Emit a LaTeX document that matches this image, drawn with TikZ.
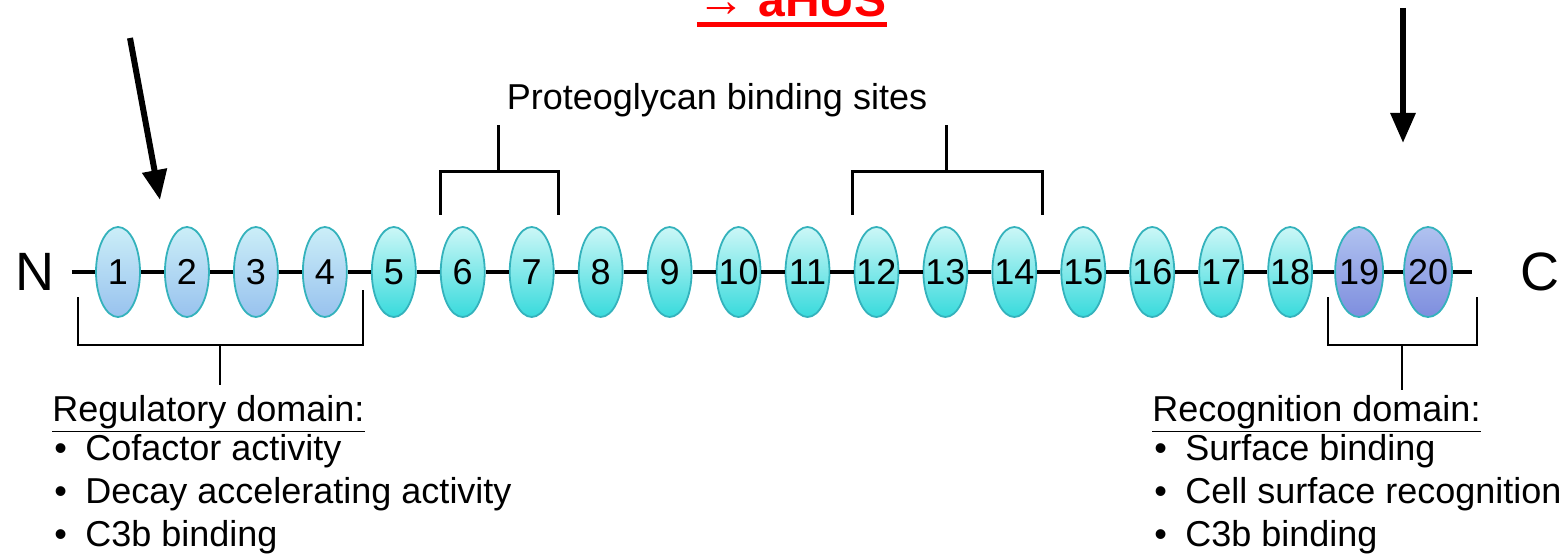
\documentclass[tikz,border=0pt]{standalone}
\usepackage{fontspec}
\setmainfont{Liberation Sans}
\usetikzlibrary{shapes.geometric,arrows.meta,positioning}

\definecolor{bordo}{HTML}{34B2BC}
\definecolor{regA}{HTML}{CBEEF8}
\definecolor{regB}{HTML}{98C2EE}
\definecolor{midA}{HTML}{CCF7F7}
\definecolor{midB}{HTML}{38DADC}
\definecolor{recA}{HTML}{B0C2F0}
\definecolor{recB}{HTML}{7E8EDE}

\newcommand{\punto}{\makebox[15.5pt][l]{\textbullet}}

\begin{document}
\begin{tikzpicture}[x=0.5pt, y=-0.5pt,
	dominio/.style={ellipse, draw=bordo, line width=0.9pt,
		minimum width=22pt, minimum height=45pt, inner sep=0pt,
		font=\fontsize{18pt}{18pt}\selectfont},
	reg/.style={dominio, top color=regA, bottom color=regB},
	mid/.style={dominio, top color=midA, bottom color=midB},
	rec/.style={dominio, top color=recA, bottom color=recB, minimum width=24pt},
	catena/.style={line width=2pt, black},
	staffa/.style={line width=1pt, black},
	staffaPG/.style={line width=1.5pt, black},
	freccia/.style={line width=3pt, -{Triangle[length=15pt,width=12pt]}},
	voce/.style={anchor=base west, inner sep=0pt,
		font=\fontsize{18pt}{21pt}\selectfont}]
	\useasboundingbox (0,0) rectangle (1565,556);
	\def\passo{68.95}

	%% domini SCR
	\foreach \i in {1,...,4}
		\node[reg] (d\i) at ({118+\passo*(\i-1)},272) {\makebox[0pt]{\i}};
	\foreach \i in {5,...,18}
		\node[mid] (d\i) at ({118+\passo*(\i-1)},272) {\makebox[0pt]{\i}};
	\foreach \i in {19,20}
		\node[rec] (d\i) at ({118+\passo*(\i-1)},272) {\makebox[0pt]{\i}};

	%% estremi N e C
	\node[font=\fontsize{27pt}{27pt}\selectfont, inner xsep=8.5pt] (nterm) at (35,272) {N};
	\node[font=\fontsize{27pt}{27pt}\selectfont] (cterm) at (1540,272) {C};
	\coordinate (cfine) at (1472,272);

	%% catena
	\draw[catena] (nterm) -- (d1);
	\foreach \i [evaluate=\i as \j using int(\i+1)] in {1,...,19}
		\draw[catena] (d\i) -- (d\j);
	\draw[catena] (d20) -- (cfine);

	%% siti proteoglicani
	\node[font=\fontsize{18pt}{18pt}\selectfont] (pg) at (717,100) {Proteoglycan binding sites};
	\draw[staffaPG] (440,215) -- (440,172) -- (558,172) -- (558,215);
	\draw[staffaPG] (498,172) -- (498,125);
	\draw[staffaPG] (852,215) -- (852,172) -- (1042,172) -- (1042,215);
	\draw[staffaPG] (946,172) -- (946,125);

	%% dominio regolatorio
	\draw[staffa] (78,297) -- (78,345) -- (363,345) -- (363,290);
	\draw[staffa] (220,345) -- (220,385);
	\node[voce] (regtit) at (52,421) {\underline{Regulatory domain:}};
	\foreach \t [count=\k] in {Cofactor activity, Decay accelerating activity, C3b binding}
		\node[voce] (reg\k) at (54,{417+43*\k}) {\punto\t};

	%% dominio di riconoscimento
	\draw[staffa] (1328,297) -- (1328,345) -- (1477,345) -- (1477,297);
	\draw[staffa] (1402,345) -- (1402,390);
	\node[voce] (rectit) at (1152,421) {\underline{Recognition domain:}};
	\foreach \t [count=\k] in {Surface binding, Cell surface recognition, C3b binding}
		\node[voce] (rec\k) at (1154,{417+43*\k}) {\punto\t};

	%% aHUS
	\node[anchor=base, inner sep=0pt, text=red, font=\fontsize{24pt}{24pt}\selectfont\bfseries] (hus) at (792,17) {→ aHUS};
	\draw[red, line width=2.5pt] ([yshift=-3.75pt]hus.base west) -- ([yshift=-3.75pt]hus.base east);

	%% frecce
	\coordinate (fsA) at (130,38);
	\coordinate (fsB) at (160,200);
	\coordinate (fdA) at (1403,8);
	\coordinate (fdB) at (1403,143);
	\draw[freccia] (fsA) -- (fsB);
	\draw[freccia] (fdA) -- (fdB);
\end{tikzpicture}
\end{document}
